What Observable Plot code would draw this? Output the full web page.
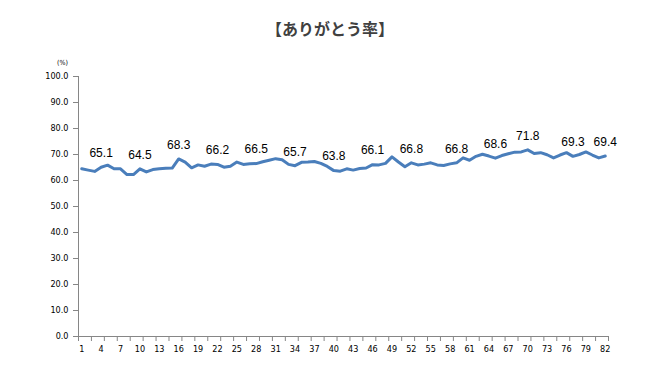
<!DOCTYPE html>
<html><head><meta charset="utf-8">
<script src="https://cdn.jsdelivr.net/npm/d3@7"></script>
<script src="https://cdn.jsdelivr.net/npm/@observablehq/plot@0.6"></script>
<style>
body{margin:0;background:#fff;}
#title{box-sizing:border-box;height:45px;width:660px;padding-top:18px;line-height:20px;text-align:center;font-weight:bold;font-size:16px;font-family:"Noto Sans CJK JP",sans-serif;color:#404040;}
</style></head><body>
<div id="title">【ありがとう率】</div>
<div id="chart"></div>
<script>
const categories = [1,2,3,4,5,6,7,8,9,10,11,12,13,14,15,16,17,18,19,20,21,22,23,24,25,26,27,28,29,30,31,32,33,34,35,36,37,38,39,40,41,42,43,44,45,46,47,48,49,50,51,52,53,54,55,56,57,58,59,60,61,62,63,64,65,66,67,68,69,70,71,72,73,74,75,76,77,78,79,80,81,82];
const values = [64.5,64.0,63.5,65.1,65.9,64.5,64.5,62.3,62.3,64.5,
                63.3,64.2,64.5,64.7,64.8,68.3,67.1,64.9,66.0,65.5,
                66.3,66.2,65.1,65.5,67.1,66.2,66.4,66.5,67.2,67.8,
                68.4,68.0,66.2,65.7,67.0,67.1,67.3,66.6,65.4,63.8,
                63.6,64.5,64.0,64.6,64.8,66.1,66.0,66.6,69.1,67.1,
                65.3,66.8,66.0,66.3,66.8,66.0,65.8,66.4,66.8,68.7,
                67.8,69.3,70.1,69.4,68.6,69.6,70.3,70.9,71.0,71.8,
                70.4,70.7,69.9,68.7,69.8,70.7,69.3,70.0,71.0,69.8,
                68.7,69.4];
const labelCategories = [4,10,16,22,28,34,40,46,52,59,65,70,77,82];
const yTicks = [0,10,20,30,40,50,60,70,80,90,100];
const xTickLabels = [1,4,7,10,13,16,19,22,25,28,31,34,37,40,43,46,49,52,55,58,61,64,67,70,73,76,79,82];
const xTickMarks = [0.5,2.5,4.5,6.5,8.5,10.5,12.5,14.5,16.5,18.5,20.5,22.5,24.5,26.5,28.5,30.5,32.5,34.5,36.5,38.5,40.5,42.5,44.5,46.5,48.5,50.5,52.5,54.5,56.5,58.5,60.5,62.5,64.5,66.5,68.5,70.5,72.5,74.5,76.5,78.5,80.5,82.5];

const data = categories.map((c, i) => ({cat: c, value: values[i]}));
const labels = data.filter(d => labelCategories.includes(d.cat));

const axisColor = "#868686";
const chart = Plot.plot({
  width: 660,
  height: 321,
  marginTop: 31,
  marginBottom: 30,
  marginLeft: 78,
  marginRight: 52,
  x: {domain: [0.5, 82.5]},
  y: {domain: [0, 100]},
  style: {fontFamily: "'DejaVu Sans Condensed', 'DejaVu Sans', sans-serif", fontSize: "9px", color: "black", background: "white"},
  marks: [
    Plot.axisY({ticks: yTicks, tickFormat: d => d.toFixed(1), tickSize: 5, tickPadding: 5, stroke: axisColor, fill: "black", label: null}),
    Plot.axisX({ticks: xTickMarks, tickSize: 5, tickFormat: () => "", stroke: axisColor, label: null}),
    Plot.axisX({ticks: xTickLabels, tickSize: 0, tickPadding: 9, fill: "black", label: null}),
    Plot.ruleX([0.5], {y1: 0, y2: 100, stroke: axisColor}),
    Plot.ruleY([0], {stroke: axisColor}),
    Plot.line(data, {x: "cat", y: "value", stroke: "#4a7ebb", strokeWidth: 3, strokeLinejoin: "round"}),
    Plot.text(labels, {x: "cat", y: "value", text: d => d.value.toFixed(1), dy: -14, fontSize: 12, fontFamily: "'Liberation Sans', sans-serif", fill: "black"}),
    Plot.text(["(%)"], {frameAnchor: "top-left", text: d => d, dx: -16, dy: -14, textAnchor: "middle", lineAnchor: "middle", fontSize: 7, fill: "black"})
  ]
});
document.getElementById("chart").appendChild(chart);
</script>
</body></html>
